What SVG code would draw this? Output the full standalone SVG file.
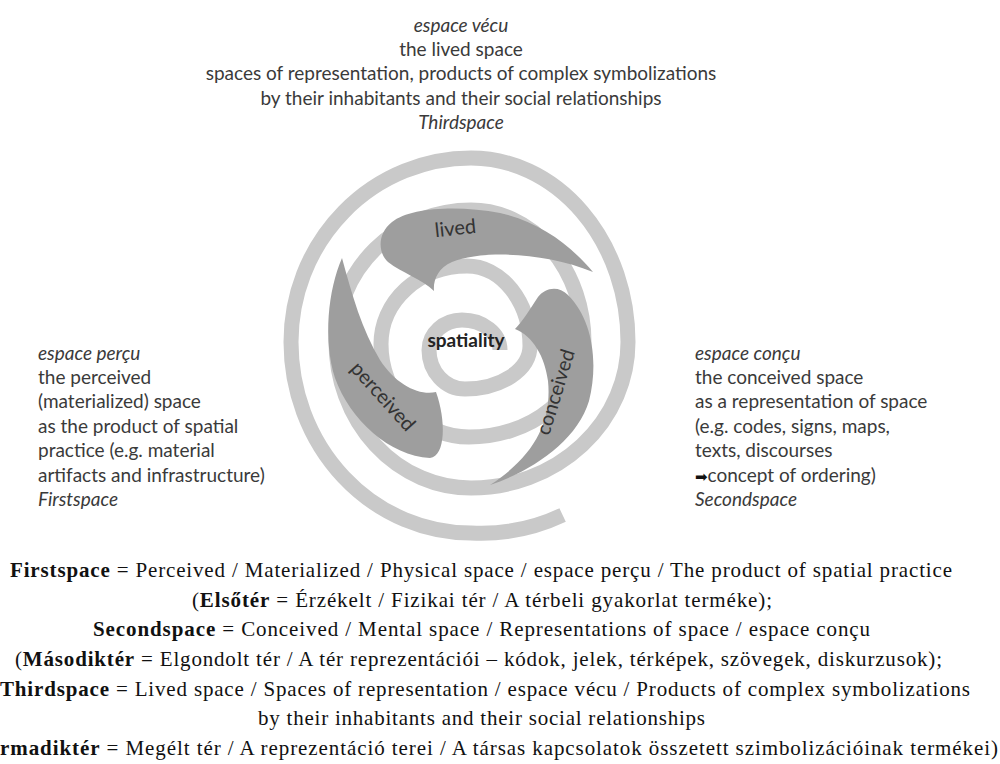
<svg xmlns="http://www.w3.org/2000/svg" width="1000" height="764" viewBox="0 0 1000 764">
<style>
.cal{font-family:Lato,"Open Sans","Liberation Sans",sans-serif;font-size:19px;fill:#3a3a3a}
.it{font-style:italic}
.lbl{font-family:Lato,"Open Sans","Liberation Sans",sans-serif;font-size:20px;fill:#333;text-anchor:middle}
.ser{font-family:"Liberation Serif","Times New Roman",serif;font-size:21px;fill:#111}
.b{font-weight:bold}
.ring{fill:none;stroke:#c9c9c9;stroke-width:15;stroke-linecap:butt}
.arr{fill:#9e9e9e}
</style>
<rect width="1000" height="764" fill="#fff"/>
<g id="spiral">
<path class="ring" d="M 562.6,515 A 195 200 0 0 1 471,533 A 180 191 0 0 1 291,342 A 180 184 0 0 1 471,158 A 157 184 0 0 1 628,342 A 157 146 0 0 1 471,488 A 135 146 0 0 1 336,342 A 135 132 0 0 1 471,210 A 113 132 0 0 1 584,342 A 115 95 0 0 1 469,437 A 88 93 0 0 1 381,344 A 86 78 0 0 1 467,266 A 63 80 0 0 1 530,346 A 65 43 0 0 1 465,389 A 36 39 0 0 1 429,350 A 33 30 0 0 1 462,320 A 38 30 0 0 1 500,350"/>
</g>
<g id="lived">
<path class="arr" d="M 593,272 C 570,245 540,222 500,213 C 460,205 410,207 392,222 C 377,234 378,253 388,262 C 402,273 422,279 434,291 C 433,280 438,268 452,262 C 482,250 545,252 593,272 Z"/>
<text class="lbl" transform="translate(456,235) rotate(-6)">lived</text>
</g>
<g id="perceived">
<path class="arr" d="M 342,258 C 328,290 323,340 335,378 C 350,420 390,456 430,458 C 446,456 446,420 436,392 C 420,396 396,385 380,360 C 362,330 352,295 342,258 Z"/>
<text class="lbl" transform="translate(378,401) rotate(48)">perceived</text>
</g>
<g id="conceived">
<path class="arr" d="M 490,485 C 532,471 577,441 589,401 C 599,361 592,319 568,295 C 558,285 545,288 538,297 C 530,309 523,321 515,329 C 533,336 545,357 548,381 C 552,421 535,456 490,485 Z"/>
<text class="lbl" transform="translate(562,394) rotate(-73)">conceived</text>
</g>
<g id="spatiality">
<text class="lbl b" x="466" y="347" style="fill:#222;font-size:19px">spatiality</text>
</g>
<g id="thirdspace-text" text-anchor="middle">
<text x="461" y="32" class="cal it">espace vécu</text>
<text x="461" y="56" class="cal">the lived space</text>
<text x="461" y="80" class="cal">spaces of representation, products of complex symbolizations</text>
<text x="461" y="105" class="cal">by their inhabitants and their social relationships</text>
<text x="461" y="129" class="cal it">Thirdspace</text>
</g>
<g id="firstspace-text">
<text x="38" y="360" class="cal it">espace perçu</text>
<text x="38" y="384" class="cal">the perceived</text>
<text x="38" y="408" class="cal">(materialized) space</text>
<text x="38" y="433" class="cal">as the product of spatial</text>
<text x="38" y="457" class="cal">practice (e.g. material</text>
<text x="38" y="482" class="cal">artifacts and infrastructure)</text>
<text x="38" y="506" class="cal it">Firstspace</text>
</g>
<g id="secondspace-text">
<text x="695" y="360" class="cal it">espace conçu</text>
<text x="695" y="384" class="cal">the conceived space</text>
<text x="695" y="408" class="cal">as a representation of space</text>
<text x="695" y="433" class="cal">(e.g. codes, signs, maps,</text>
<text x="695" y="457" class="cal">texts, discourses</text>
<text x="695" y="482" class="cal"><tspan font-family="DejaVu Sans" font-size="15" fill="#111">➡</tspan>concept of ordering)</text>
<text x="695" y="506" class="cal it">Secondspace</text>
</g>
<g id="legend">
<text x="10" y="577" class="ser" textLength="942" lengthAdjust="spacing"><tspan class="b">Firstspace</tspan> = Perceived / Materialized / Physical space / espace perçu / The product of spatial practice</text>
<text x="192" y="607" class="ser" textLength="580" lengthAdjust="spacing">(<tspan class="b">Elsőtér</tspan> = Érzékelt / Fizikai tér / A térbeli gyakorlat terméke);</text>
<text x="93" y="636" class="ser" textLength="777" lengthAdjust="spacing"><tspan class="b">Secondspace</tspan> = Conceived / Mental space / Representations of space / espace conçu</text>
<text x="15" y="666" class="ser" textLength="927" lengthAdjust="spacing">(<tspan class="b">Másodiktér</tspan> = Elgondolt tér / A tér reprezentációi – kódok, jelek, térképek, szövegek, diskurzusok);</text>
<text x="0" y="696" class="ser" textLength="970" lengthAdjust="spacing"><tspan class="b">Thirdspace</tspan> = Lived space / Spaces of representation / espace vécu / Products of complex symbolizations</text>
<text x="258" y="725" class="ser" textLength="447" lengthAdjust="spacing">by their inhabitants and their social relationships</text>
<text x="0" y="755" class="ser" textLength="998" lengthAdjust="spacing"><tspan class="b">rmadiktér</tspan> = Megélt tér / A reprezentáció terei / A társas kapcsolatok összetett szimbolizációinak termékei)</text>
</g>
</svg>
